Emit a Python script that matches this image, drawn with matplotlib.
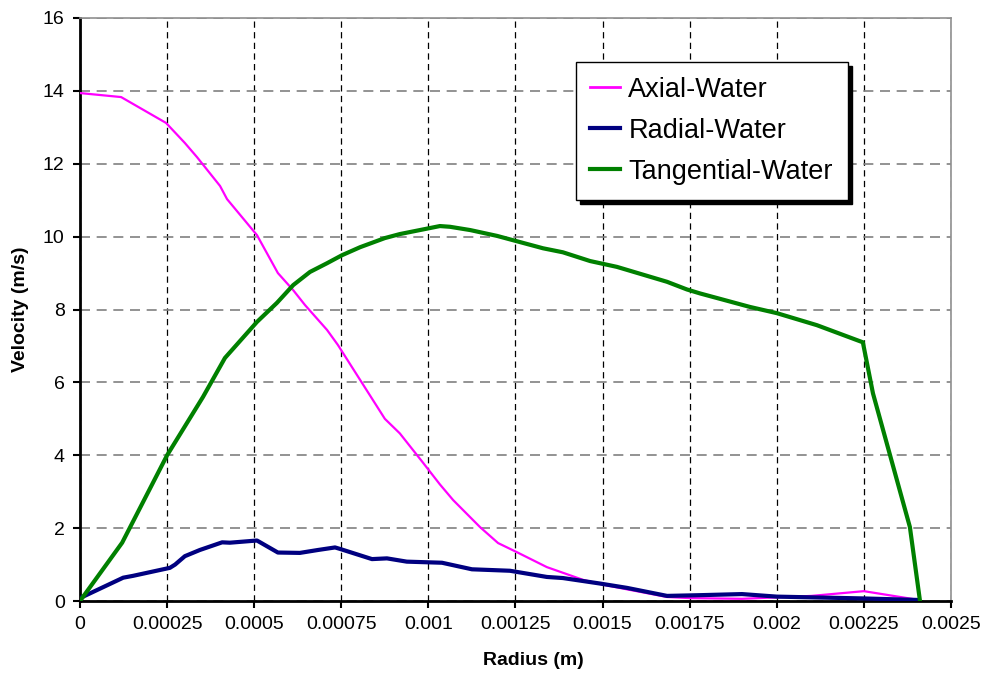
import matplotlib.pyplot as plt

plt.rcParams['font.family'] = ['Liberation Sans', 'DejaVu Sans']

# Rayon (m) et vitesses (m/s)
radius_axial = [0, 0.000118, 0.000247, 0.000301, 0.000336, 0.000402, 0.000422, 0.000508,
                0.000568, 0.000612, 0.000646, 0.000709, 0.00074, 0.000875, 0.000918,
                0.000985, 0.001033, 0.001071, 0.001148, 0.0012, 0.001254, 0.00134,
                0.001444, 0.0015, 0.00157, 0.001685, 0.00175, 0.0019, 0.002, 0.0021,
                0.00225, 0.0024]
axial = [13.94, 13.83, 13.12, 12.57, 12.18, 11.39, 11.03, 10.04,
         9.0, 8.53, 8.12, 7.44, 7.03, 5.0, 4.6,
         3.79, 3.2, 2.77, 2.03, 1.59, 1.34, 0.93,
         0.58, 0.45, 0.32, 0.11, 0.08, 0.06, 0.1, 0.14,
         0.27, 0.04]

radius_radial = [0, 0.000124, 0.000152, 0.000258, 0.000273, 0.000301, 0.000344, 0.000408,
                 0.00043, 0.000508, 0.000568, 0.000631, 0.000683, 0.000732, 0.000746,
                 0.000838, 0.000881, 0.000938, 0.001039, 0.001125, 0.001234, 0.00134,
                 0.001386, 0.001492, 0.00157, 0.001685, 0.00178, 0.0019, 0.002, 0.0021,
                 0.00225, 0.0024]
radial = [0.08, 0.64, 0.69, 0.91, 1.0, 1.23, 1.40, 1.61,
          1.6, 1.66, 1.33, 1.32, 1.40, 1.47, 1.43,
          1.15, 1.17, 1.08, 1.05, 0.87, 0.83, 0.66,
          0.63, 0.48, 0.36, 0.14, 0.16, 0.19, 0.12, 0.1,
          0.07, 0.03]

radius_tang = [0, 0.000121, 0.00025, 0.000353, 0.000416, 0.000508, 0.000565, 0.000612,
               0.00066, 0.000709, 0.000752, 0.000804, 0.000875, 0.000918, 0.001033,
               0.001062, 0.00112, 0.001197, 0.001329, 0.001386, 0.001464, 0.001541,
               0.001685, 0.001742, 0.00178, 0.001923, 0.002, 0.002115, 0.00223,
               0.002247, 0.002276, 0.002382, 0.002411]
tangential = [0, 1.6, 4.0, 5.6, 6.67, 7.66, 8.18, 8.67,
              9.03, 9.27, 9.49, 9.71, 9.96, 10.07, 10.29,
              10.27, 10.18, 10.02, 9.68, 9.57, 9.33, 9.17,
              8.76, 8.55, 8.44, 8.07, 7.9, 7.57, 7.16,
              7.1, 5.7, 2.03, 0]

x_ticks = [0, 0.00025, 0.0005, 0.00075, 0.001, 0.00125, 0.0015, 0.00175, 0.002, 0.00225, 0.0025]
x_labels = ["0", "0.00025", "0.0005", "0.00075", "0.001", "0.00125", "0.0015",
            "0.00175", "0.002", "0.00225", "0.0025"]
y_ticks = [0, 2, 4, 6, 8, 10, 12, 14, 16]

fig = plt.figure(figsize=(9.87, 6.79), dpi=100)
ax = fig.add_axes([80 / 987, 78 / 679, 871 / 987, 583 / 679])

ax.plot(radius_axial, axial, color='#FF00FF', lw=1.6, label='Axial-Water', zorder=3)
ax.plot(radius_radial, radial, color='#000080', lw=3.0, label='Radial-Water', zorder=3)
ax.plot(radius_tang, tangential, color='#008000', lw=3.0, label='Tangential-Water', zorder=4)

ax.set_xlim(0, 0.0025)
ax.set_ylim(0, 16)
ax.set_xticks(x_ticks)
ax.set_xticklabels(x_labels)
ax.set_yticks(y_ticks)
ax.tick_params(direction='out', length=5, width=1.5, labelsize=14, pad=6)

# grille : verticales noires, horizontales grises
ax.xaxis.grid(True, color='black', linestyle=(0, (5, 3.5)), linewidth=0.9)
ax.yaxis.grid(True, color='#808080', linestyle=(0, (6, 4)), linewidth=1.2)
ax.set_axisbelow(True)

for s in ['left', 'bottom']:
    ax.spines[s].set_linewidth(2)
    ax.spines[s].set_color('black')
for s in ['top', 'right']:
    ax.spines[s].set_linewidth(1.2)
    ax.spines[s].set_color('#909090')

ax.set_xlabel('Radius (m)', fontsize=14, fontweight='bold')
ax.set_ylabel('Velocity (m/s)', fontsize=14, fontweight='bold')
ax.xaxis.set_label_coords((533 - 80) / 871, -0.088)
ax.yaxis.set_label_coords(-0.058, 0.5)

leg = ax.legend(loc='upper left', bbox_to_anchor=(0.569, 0.9245), borderaxespad=0,
                fontsize=19.5, frameon=True, fancybox=False, handlelength=1.1,
                handletextpad=0.3, labelspacing=0.55, borderpad=0.55,
                shadow={'ox': 2.9, 'oy': -2.9, 'facecolor': 'black',
                        'edgecolor': 'black', 'alpha': 1})
leg.get_frame().set_edgecolor('black')
leg.get_frame().set_linewidth(1)
for h in leg.get_lines():
    h.set_linewidth(3)
leg.get_lines()[0].set_linewidth(2)

plt.savefig('out.png', dpi=100)
